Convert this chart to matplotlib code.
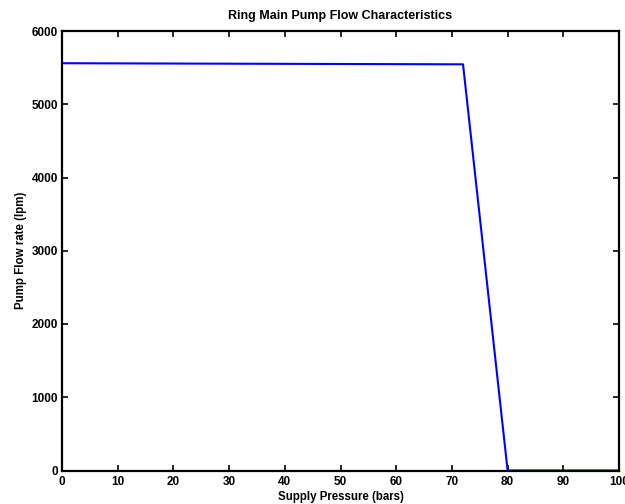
import matplotlib.pyplot as plt

# Pump characteristic: flat delivery, then cut-off between 72 and 80 bar
pressure = [0, 72, 80, 100]
flow = [5560, 5545, 0, 0]

x_ticks = list(range(0, 101, 10))
y_ticks = list(range(0, 6001, 1000))

plt.rcParams['font.family'] = ['Liberation Sans', 'DejaVu Sans']
plt.rcParams['font.weight'] = 'bold'
plt.rcParams['font.size'] = 8.5

fig = plt.figure(figsize=(6.25, 5.04), dpi=100)
ax = fig.add_axes([62 / 625, 1 - 470.5 / 504, 557 / 625, 439.5 / 504])

ax.plot(pressure, flow, color='#0000ff', linewidth=1.5)

ax.set_xlim(0, 100)
ax.set_ylim(0, 6000)
ax.set_xticks(x_ticks)
ax.set_yticks(y_ticks)
ax.tick_params(direction='in', length=4, width=1.2, top=True, right=True)
ax.tick_params(axis='x', pad=4)
ax.tick_params(axis='y', pad=3)
for lbl in ax.get_xticklabels() + ax.get_yticklabels():
    lbl.set_fontweight('bold')
for s in ax.spines.values():
    s.set_linewidth(1.6)

ax.set_title('Ring Main Pump Flow Characteristics', fontweight='bold',
             fontsize=9, pad=9)
ax.set_xlabel('Supply Pressure (bars)', fontweight='bold', fontsize=8.3,
              labelpad=2)
ax.set_ylabel('Pump Flow rate (lpm)', fontweight='bold', fontsize=8.3,
              labelpad=3)

fig.savefig('out.png', dpi=100)
